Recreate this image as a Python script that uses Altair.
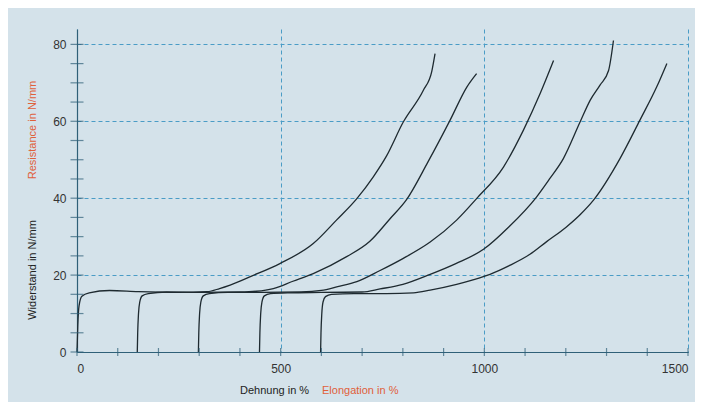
import altair as alt
import pandas as pd

# ---- data ----
c1_x = [0, 2, 5, 12, 30, 80, 150, 250, 320, 350, 376, 430, 498, 580, 637, 687, 727, 760, 801, 850, 871, 879]
c1_y = [0, 7, 12, 14.5, 15.4, 16, 15.7, 15.5, 15.7, 16.5, 17.4, 19.8, 23, 28.2, 34.3, 39.9, 45.5, 51, 59.8, 68, 73, 77.6]

c2_x = [148, 149, 151, 154, 160, 175, 220, 300, 400, 440, 482, 530, 580, 662, 719, 768, 809, 862, 916, 957, 981]
c2_y = [0, 5, 10, 13, 14.6, 15.2, 15.6, 15.5, 15.6, 15.8, 16.5, 18.4, 20.4, 24.8, 28.8, 34.6, 39.6, 49.5, 60.3, 68.9, 72.4]

c3_x = [298, 299, 301, 304, 310, 325, 370, 450, 550, 600, 640, 687, 744, 800, 867, 932, 981, 1047, 1096, 1137, 1170]
c3_y = [0, 5, 10, 13, 14.6, 15.2, 15.5, 15.5, 15.6, 16, 17, 18.3, 21.2, 24.3, 28.6, 34.3, 39.9, 48.1, 57.7, 67.2, 75.8]

c4_x = [448, 449, 451, 454, 460, 475, 520, 600, 700, 744, 800, 867, 930, 998, 1060, 1128, 1160, 1194, 1235, 1260, 1284, 1305, 1317]
c4_y = [0, 5, 10, 13, 14.6, 15.2, 15.4, 15.5, 15.6, 16.4, 17.6, 20.2, 23, 26.7, 32.5, 40.3, 45, 50.3, 59.8, 65.5, 69.4, 73.2, 81]

c5_x = [598, 599, 601, 604, 610, 625, 680, 760, 826, 867, 932, 970, 1014, 1060, 1112, 1153, 1200, 1235, 1268, 1333, 1382, 1423, 1448]
c5_y = [0, 5, 10, 13, 14.4, 15, 15.2, 15.2, 15.4, 16.1, 17.6, 18.7, 20.2, 22.4, 25.4, 28.7, 32.4, 35.7, 39.5, 50.3, 60.3, 68.9, 75]

x_label_values = [0, 500, 1000, 1500]
y_label_values = [0, 20, 40, 60, 80]
x_tick_values = [0, 100, 200, 300, 400, 500, 600, 700, 800, 900, 1000, 1100, 1200, 1300, 1400, 1500]
y_tick_values = [0, 5, 10, 15, 20, 25, 30, 35, 40, 45, 50, 55, 60, 65, 70, 75, 80]

rows = []
for name, xs, ys in [("1", c1_x, c1_y), ("2", c2_x, c2_y), ("3", c3_x, c3_y),
                     ("4", c4_x, c4_y), ("5", c5_x, c5_y)]:
    for i, (a, b) in enumerate(zip(xs, ys)):
        rows.append({"curve": name, "i": i, "x": a, "y": b})
df = pd.DataFrame(rows)

W, H = 611, 323
BG = "#d4e2ea"
AX = "#2f6078"
GRID = "#4a9cc6"
FONT = "Liberation Sans"

xscale = alt.Scale(domain=[0, 1500], nice=False, zero=False)
yscale = alt.Scale(domain=[0, 84], nice=False, zero=False)

xaxis = alt.Axis(values=x_label_values, format="d", grid=True, gridDash=[4, 3], gridColor=GRID, gridWidth=1,
                 ticks=False, domainColor=AX, domainWidth=1.2, labelPadding=11,
                 labelFont=FONT, labelFontSize=12, labelColor="#333333", title=None)
yaxis = alt.Axis(values=y_label_values, format="d", grid=True, gridDash=[4, 3], gridColor=GRID, gridWidth=1,
                 ticks=False, domainColor=AX, domainWidth=1.2, labelPadding=11,
                 labelFont=FONT, labelFontSize=12, labelColor="#333333", title=None)

lines = alt.Chart(df).mark_line(color="#1e2a30", strokeWidth=1.3, interpolate="monotone").encode(
    x=alt.X("x:Q", scale=xscale, axis=xaxis),
    y=alt.Y("y:Q", scale=yscale, axis=yaxis),
    detail="curve:N",
    order="i:Q",
)

yt = alt.Chart(pd.DataFrame({"v": y_tick_values})).mark_tick(
    orient="horizontal", size=13, thickness=1.2, color=AX).encode(
    y=alt.Y("v:Q", scale=yscale), x=alt.value(0))

xt = alt.Chart(pd.DataFrame({"v": x_tick_values})).mark_tick(
    orient="vertical", size=8, thickness=1.2, color=AX).encode(
    x=alt.X("v:Q", scale=xscale), y=alt.value(H))

titles = pd.DataFrame({
    "t": ["Widerstand in N/mm", "Resistance in N/mm"],
    "c": ["#222222", "#e0603a"],
    "py": [241, 101],
})
ytitles = alt.Chart(titles).mark_text(angle=270, font=FONT, fontSize=11, align="center",
                                       baseline="middle").encode(
    text="t:N", color=alt.Color("c:N", scale=None), x=alt.value(-44), y=alt.Y("py:Q", scale=None))

xtitles_df = pd.DataFrame({
    "t": ["Dehnung in %", "Elongation in %"],
    "c": ["#222222", "#e0603a"],
    "px": [163, 245],
})
xtitles = alt.Chart(xtitles_df).mark_text(font=FONT, fontSize=11, align="left",
                                          baseline="middle").encode(
    text="t:N", color=alt.Color("c:N", scale=None), x=alt.X("px:Q", scale=None), y=alt.value(362))

chart = alt.layer(lines, yt, xt, ytitles, xtitles).properties(
    width=W, height=H, background=BG,
    padding={"left": 69, "top": 21, "right": 7, "bottom": 50},
    autosize=alt.AutoSizeParams(type="none"),
).configure_view(stroke=None).configure_axis(labelFont=FONT)

chart.save("out.html", embed_options={"renderer": "svg", "actions": False})
